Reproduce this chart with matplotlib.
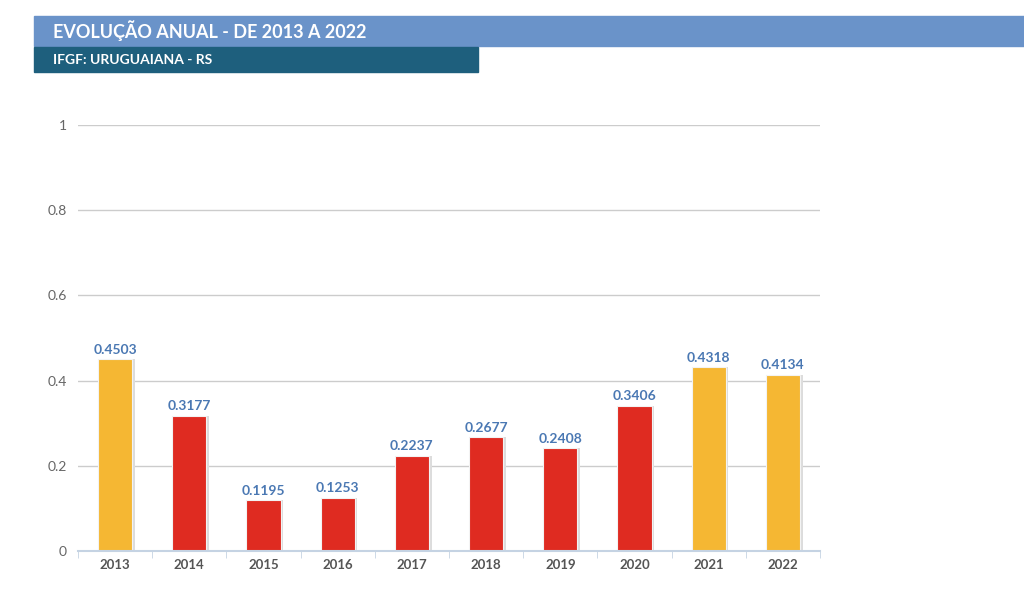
import matplotlib
matplotlib.use("Agg")
import matplotlib.pyplot as plt
from matplotlib.patches import Rectangle

years = ["2013", "2014", "2015", "2016", "2017", "2018", "2019", "2020", "2021", "2022"]
values = [0.4503, 0.3177, 0.1195, 0.1253, 0.2237, 0.2677, 0.2408, 0.3406, 0.4318, 0.4134]
labels = ["0.4503", "0.3177", "0.1195", "0.1253", "0.2237", "0.2677", "0.2408", "0.3406", "0.4318", "0.4134"]
yticks = [0, 0.2, 0.4, 0.6, 0.8, 1]
yticklabels = ["0", "0.2", "0.4", "0.6", "0.8", "1"]
title = "EVOLUÇÃO ANUAL - DE 2013 A 2022"
subtitle = "IFGF: URUGUAIANA - RS"

YELLOW = "#F5B733"
RED = "#DF2B21"
colors = [YELLOW if v >= 0.4 else RED for v in values]

plt.rcParams['font.family'] = ['Lato', 'DejaVu Sans']
W, H = 1024, 596
fig = plt.figure(figsize=(W / 100, H / 100), dpi=100)

# header bands
fig.patches.append(Rectangle((34 / W, 1 - 46 / H), (W - 34) / W, 30 / H,
                             transform=fig.transFigure, color="#6A93C9", zorder=0))
fig.patches.append(Rectangle((34 / W, 1 - 72 / H), (478 - 34) / W, 25 / H,
                             transform=fig.transFigure, color="#1E5F7D", zorder=0))
fig.text(53 / W, 1 - 31 / H, title, color="white", fontsize=13, fontweight="bold",
         va="center", ha="left")
fig.text(53 / W, 1 - 60 / H, subtitle, color="white", fontsize=10, fontweight="bold",
         va="center", ha="left")

ax = fig.add_axes([78 / W, 1 - 551 / H, (820 - 78) / W, (551 - 125) / H])
x = list(range(len(years)))
# shadow
ax.bar([i + 0.035 for i in x], values, width=0.46, color="#dcdcdc", zorder=2)
ax.bar(x, values, width=0.46, color=colors, edgecolor="#f3f3f3", linewidth=0.8, zorder=3)
for i, (v, lab) in enumerate(zip(values, labels)):
    ax.text(i, v + 0.008, lab, ha="center", va="bottom", color="#4A78B3",
            fontsize=10, fontweight="bold", zorder=4)

ax.set_xlim(-0.5, len(years) - 0.5)
ax.set_ylim(0, 1)
ax.set_yticks(yticks)
ax.set_yticklabels(yticklabels)
ax.set_xticks(x)
ax.set_xticklabels(years)
ax.set_xticks([i + 0.5 for i in range(-1, len(years))], minor=True)
ax.tick_params(axis="x", which="major", length=0, pad=6, labelsize=9.5, labelcolor="#555555")
ax.tick_params(axis="x", which="minor", length=5, color="#c5d3e3", direction="out")
ax.tick_params(axis="y", length=0, pad=8, labelsize=10, labelcolor="#666666")
for lab in ax.get_xticklabels():
    lab.set_fontweight("bold")
ax.grid(axis="y", color="#cccccc", linewidth=1, zorder=0)
ax.set_axisbelow(True)
for s in ["top", "right", "left"]:
    ax.spines[s].set_visible(False)
ax.spines["bottom"].set_color("#c5d3e3")
ax.spines["bottom"].set_linewidth(1.5)
ax.spines["bottom"].set_zorder(5)

fig.savefig("out.png", dpi=100)
